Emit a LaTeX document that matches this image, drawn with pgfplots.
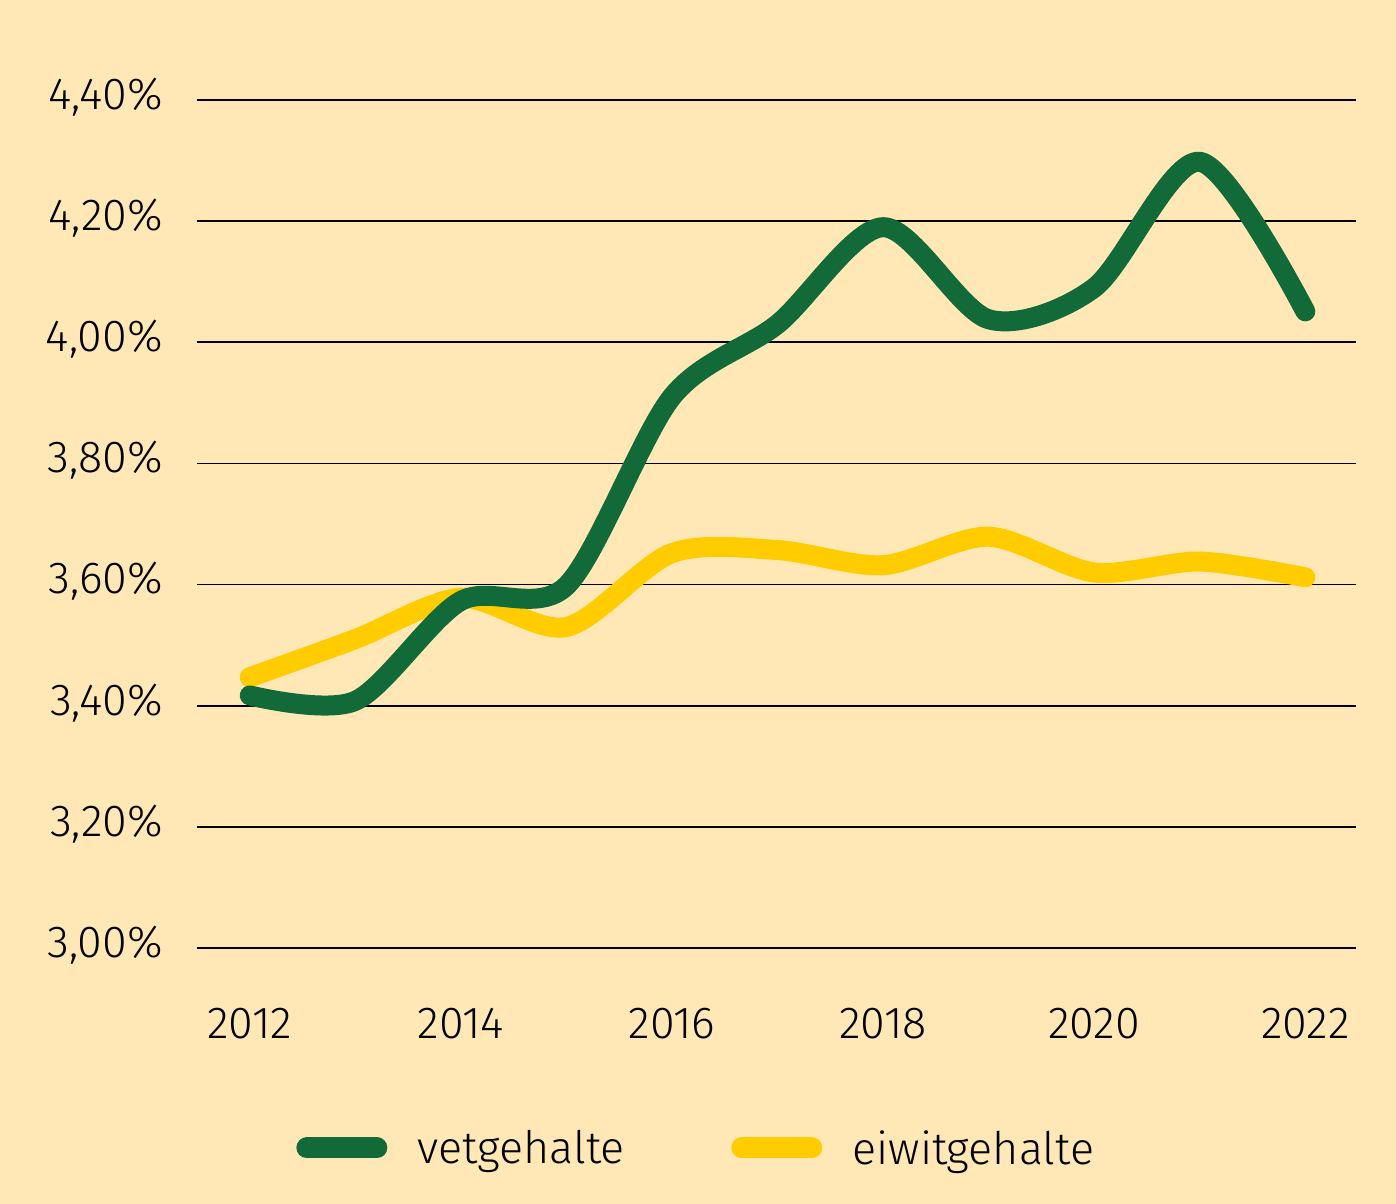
\documentclass[border=0pt]{standalone}
\usepackage{fontspec}
\setmainfont{Fira Sans Light}
\usepackage{pgfplots}
\pgfplotsset{compat=1.18}
\definecolor{bg}{RGB}{255,232,182}
\definecolor{vet}{RGB}{18,106,57}
\definecolor{eiwit}{RGB}{255,204,0}
\begin{document}
\begin{tikzpicture}
\useasboundingbox (0,0) rectangle (1396bp,1204bp);
\fill[bg] (0,0) rectangle (1396bp,1204bp);
\begin{axis}[
  at={(197bp,256bp)}, anchor=south west,
  scale only axis, width=1159bp, height=848bp,
  xmin=2011.5, xmax=2022.48, ymin=3, ymax=4.4,
  axis line style={draw=none},
  major tick length=0pt,
  ytick={3,3.2,...,4.41},
  xtick={2012,2014,...,2022},
  ymajorgrids, grid style={black, line width=1.8bp},
  /pgf/number format/assume math mode=true,
  yticklabel={\pgfmathprintnumber[fixed,fixed zerofill,precision=2,use comma]{\tick}\%},
  xticklabel={\pgfmathprintnumber[1000 sep={},fixed,precision=0]{\tick}},
  yticklabel style={font=\fontsize{45}{52}\selectfont, inner sep=0pt, anchor=east, xshift=-34bp, yshift=3bp},
  xticklabel style={font=\fontsize{45}{52}\selectfont, inner sep=0pt, anchor=north, yshift=-60bp},
  clip=false,
  reverse legend,
  legend columns=2,
  legend style={draw=none, fill=none, at={(0.4297,-0.2358)}, anchor=center,
    font=\fontsize{45}{52}\selectfont,
    nodes={inner sep=0pt},
    column sep=30bp,
    /tikz/every even column/.append style={column sep=106bp}},
  legend image code/.code={%
    \path[draw=none, fill=none] (0bp,-11bp) rectangle (92bp,11bp);
    \draw[#1, line width=21bp, line cap=round] (11bp,0bp) -- (81bp,0bp);},
]
\addplot[eiwit, line width=20bp, line cap=round, line join=round, smooth] coordinates {
(2012,3.447) (2013,3.51) (2014,3.578) (2015,3.53) (2016,3.652) (2017,3.657)
(2018,3.632) (2019,3.679) (2020,3.62) (2021,3.638) (2022,3.612)};
\addlegendentry{eiwitgehalte}
\addplot[vet, line width=20bp, line cap=round, line join=round, smooth] coordinates {
(2012,3.417) (2013,3.408) (2014,3.573) (2015,3.598) (2016,3.91) (2017,4.03)
(2018,4.19) (2019,4.038) (2020,4.09) (2021,4.298) (2022,4.051)};
\addlegendentry{vetgehalte}
\end{axis}
\end{tikzpicture}
\end{document}
